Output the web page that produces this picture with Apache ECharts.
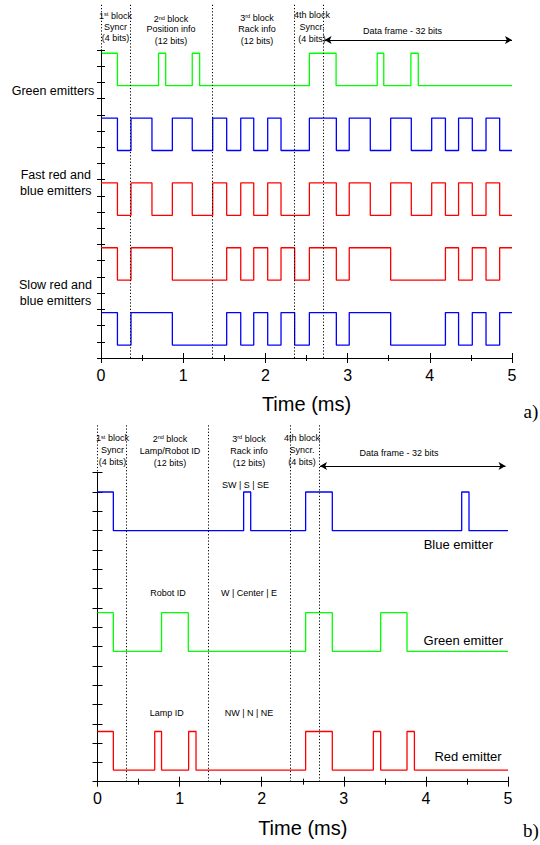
<!DOCTYPE html>
<html><head><meta charset="utf-8">
<script src="https://cdn.jsdelivr.net/npm/echarts@6/dist/echarts.min.js"></script>
<style>html,body{margin:0;padding:0;background:#fff}#c{width:540px;height:845px}</style>
</head><body><div id="c"></div>
<script>
// ---------- shared ----------
const xTickLabels = [0, 1, 2, 3, 4, 5];
const blockBoundaries = [0, 0.35, 1.35, 2.35, 2.7];
const dataFrameArrowA = [2.72, 5.0];
const dataFrameArrowB = [2.71, 4.97];

// ---------- panel a: toggle times (ms); every trace starts high ----------
const greenEdgesA = [0.20, 0.70, 0.787, 1.11, 1.20, 2.535, 2.86, 3.36, 3.44, 3.77, 3.86];
const fastEdgesA = [0.20, 0.365, 0.62, 0.868, 1.11, 1.359, 1.529, 1.70, 1.858, 2.028, 2.19, 2.535, 2.863, 3.02, 3.276, 3.524, 3.775, 4.023, 4.19, 4.35, 4.517, 4.684, 4.85];
const slowEdgesA = [0.20, 0.365, 0.868, 1.529, 1.70, 1.858, 2.028, 2.19, 2.356, 2.535, 2.863, 3.02, 3.524, 4.19, 4.35, 4.517, 4.684, 4.85];
// [high, low] levels on the y scale
const greenLevelsA = [18.8, 16.8];
const fastBlueLevelsA = [14.8, 12.8];
const fastRedLevelsA = [10.8, 8.8];
const slowRedLevelsA = [6.8, 4.8];
const slowBlueLevelsA = [2.8, 0.8];

// ---------- panel b ----------
const blueEdgesB = [0.193, 1.78, 1.866, 2.535, 2.86, 4.436, 4.525];
const greenEdgesB = [0.193, 0.78, 1.106, 2.535, 2.86, 3.449, 3.77];
const redEdgesB = [0.193, 0.697, 0.78, 1.11, 1.20, 2.535, 2.86, 3.36, 3.449, 3.77, 3.86];
const blueLevelsB = [15, 13];
const greenLevelsB = [8.75, 6.75];
const redLevelsB = [2.6, 0.6];

function stepData(edges, levels, end) {
  const hi = levels[0], lo = levels[1];
  let s = hi;
  const pts = [[0, s]];
  edges.forEach(e => { pts.push([e, s]); s = (s === hi ? lo : hi); pts.push([e, s]); });
  pts.push([end, s]);
  return pts;
}

const FONT = '"Liberation Sans", Arial, sans-serif';
const SERIF = '"Liberation Serif", "Times New Roman", serif';

const GA = {left: 101, width: 411, top: 50, height: 308};
const GB = {left: 97.5, width: 410.5, top: 472.7, height: 309};
const OA = {left: 101, width: 411, top: 3, height: 355};
const OB = {left: 97.5, width: 410.5, top: 425, height: 356.7};
const arrowYA = (358 - 40) / 355;
const arrowYB = (781.7 - 466) / 356.7;

function xBottom(gi) {
  return {
    type: 'value', gridIndex: gi, position: 'bottom', min: 0, max: 5, interval: 1,
    axisLine: {show: true, lineStyle: {color: '#000', width: 1.2}},
    axisTick: {show: true, inside: true, length: 5, lineStyle: {color: '#000'}},
    minorTick: {show: true, splitNumber: 2, length: 3, lineStyle: {color: '#000'}},
    axisLabel: {show: true, color: '#000', fontSize: 16, fontFamily: FONT, margin: 9,
      formatter: v => (xTickLabels.indexOf(v) >= 0 ? String(v) : '')},
    splitLine: {show: false}, minorSplitLine: {show: false},
    name: 'Time (ms)', nameLocation: 'middle', nameGap: 36,
    nameTextStyle: {color: '#000', fontSize: 20, fontFamily: FONT}
  };
}
function xTop(gi) {
  return {
    type: 'value', gridIndex: gi, position: 'top', min: 0, max: 5, interval: 1,
    axisLine: {show: true, lineStyle: {color: '#000', width: 1}},
    axisTick: {show: true, inside: true, length: 5, lineStyle: {color: '#000'}},
    minorTick: {show: true, splitNumber: 2, length: 3, lineStyle: {color: '#000'}},
    axisLabel: {show: false}, splitLine: {show: false}, minorSplitLine: {show: false}
  };
}
function yAx(gi, pos, max, len) {
  return {
    type: 'value', gridIndex: gi, position: pos, min: 0, max: max, interval: 1,
    axisLine: {show: true, lineStyle: {color: '#000', width: 1}},
    axisTick: {show: true, inside: true, length: len, lineStyle: {color: '#000'}},
    axisLabel: {show: false}, splitLine: {show: false}
  };
}
function hidX(gi) { return {type: 'value', gridIndex: gi, min: 0, max: 5, show: false}; }
function hidY(gi) { return {type: 'value', gridIndex: gi, min: 0, max: 1, show: false}; }

function trace(name, edges, levels, color, xi, yi) {
  return {
    name: name, type: 'line', xAxisIndex: xi, yAxisIndex: yi,
    data: stepData(edges, levels, 5), showSymbol: false, symbol: 'none',
    lineStyle: {color: color, width: 1.3}, silent: true, animation: false, z: 3
  };
}
function dotted(xi, yi) {
  return {
    type: 'line', xAxisIndex: xi, yAxisIndex: yi, data: [], silent: true, animation: false,
    markLine: {silent: true, symbol: ['none', 'none'], label: {show: false},
      lineStyle: {color: '#000', type: [1.2, 2], width: 1},
      data: blockBoundaries.map(b => [{coord: [b, 0]}, {coord: [b, 1]}])}
  };
}
function arrow(xi, yi, span, yv) {
  return {
    type: 'line', xAxisIndex: xi, yAxisIndex: yi, data: [], silent: true, animation: false,
    markLine: {silent: true, symbol: ['arrow', 'arrow'], symbolSize: [6, 7], label: {show: false},
      lineStyle: {color: '#000', type: 'solid', width: 1},
      data: [[{coord: [span[0], yv]}, {coord: [span[1], yv]}]]}
  };
}

function txt(t, x, y, size, align, extra) {
  const st = Object.assign({text: t, x: x, y: y, fill: '#000', fontSize: size, fontFamily: FONT,
    align: align || 'center', verticalAlign: 'middle'}, extra || {});
  return {type: 'text', silent: true, style: st, z: 10};
}
function supTxt(n, sup, rest, x, y, size) {
  return txt('{n|' + n + '}{s|' + sup + '}{n|' + rest + '}', x, y, size, 'center', {
    rich: {n: {fontSize: size, fontFamily: FONT, fill: '#000'},
           s: {fontSize: size * 0.62, fontFamily: FONT, fill: '#000', verticalAlign: 'top'}}
  });
}

const FS = 9;
const graphics = [
  // panel a block headings
  supTxt('1', 'st', ' block', 115.5, 15.7, FS), txt('Syncr', 115.5, 26.7, FS), txt('(4 bits)', 115.5, 38.3, FS),
  supTxt('2', 'nd', ' block', 171, 19, FS), txt('Position info', 171, 29.3, FS), txt('(12 bits)', 171, 41, FS),
  supTxt('3', 'rd', ' block', 257, 17.5, FS), txt('Rack info', 257, 28.7, FS), txt('(12 bits)', 257, 41, FS),
  txt('4th block', 312, 15.3, FS), txt('Syncr.', 312, 26.7, FS), txt('(4 bits)', 312, 38.7, FS),
  txt('Data frame - 32 bits', 402.5, 31, FS),
  txt('Green emitters', 53, 90.7, 12.5),
  txt('Fast red and', 55.8, 175, 12.5), txt('blue emitters', 55.8, 190.7, 12.5),
  txt('Slow red and', 55.5, 285, 12.5), txt('blue emitters', 55.5, 300.7, 12.5),
  txt('a)', 531, 411, 19, 'center', {fontFamily: SERIF}),
  // panel b block headings
  supTxt('1', 'st', ' block', 112.5, 438.3, FS), txt('Syncr', 112.5, 450, FS), txt('(4 bits)', 112.5, 462, FS),
  supTxt('2', 'nd', ' block', 170, 438.7, FS), txt('Lamp/Robot ID', 170, 451, FS), txt('(12 bits)', 170, 462.7, FS),
  supTxt('3', 'rd', ' block', 249, 438.7, FS), txt('Rack info', 249, 450.7, FS), txt('(12 bits)', 249, 462.7, FS),
  txt('4th block', 302, 438, FS), txt('Syncr.', 302, 450, FS), txt('(4 bits)', 302, 462, FS),
  txt('Data frame - 32 bits', 399, 453, FS),
  txt('SW | S | SE', 245.5, 485, FS),
  txt('Robot ID', 168, 593, FS), txt('W | Center | E', 249, 593, FS),
  txt('Lamp ID', 166.7, 713, FS), txt('NW | N | NE', 249, 713, FS),
  txt('Blue emitter', 493, 544, 13, 'right'),
  txt('Green emitter', 503, 640, 13, 'right'),
  txt('Red emitter', 501.7, 756.7, 13, 'right'),
  txt('b)', 531, 830, 19, 'center', {fontFamily: SERIF})
];

const option = {
  backgroundColor: '#fff',
  animation: false,
  grid: [GA, OA, GB, OB].map(g => Object.assign({containLabel: false}, g)),
  xAxis: [xBottom(0), xTop(0), hidX(1), xBottom(2), xTop(2), hidX(3)],
  yAxis: [yAx(0, 'left', 19, 4), yAx(0, 'right', 19, 4), hidY(1),
          yAx(2, 'left', 16, 5), yAx(2, 'right', 16, 5), hidY(3)],
  series: [
    trace('Green emitters', greenEdgesA, greenLevelsA, '#00ff00', 0, 0),
    trace('Fast blue', fastEdgesA, fastBlueLevelsA, '#0000ff', 0, 0),
    trace('Fast red', fastEdgesA, fastRedLevelsA, '#ff0000', 0, 0),
    trace('Slow red', slowEdgesA, slowRedLevelsA, '#ff0000', 0, 0),
    trace('Slow blue', slowEdgesA, slowBlueLevelsA, '#0000ff', 0, 0),
    dotted(2, 2), arrow(2, 2, dataFrameArrowA, arrowYA),
    trace('Blue emitter', blueEdgesB, blueLevelsB, '#0000ff', 3, 3),
    trace('Green emitter', greenEdgesB, greenLevelsB, '#00ff00', 3, 3),
    trace('Red emitter', redEdgesB, redLevelsB, '#ff0000', 3, 3),
    dotted(5, 5), arrow(5, 5, dataFrameArrowB, arrowYB)
  ],
  graphic: graphics
};

const chart = echarts.init(document.getElementById('c'), null, {renderer: 'svg'});
chart.setOption(option);
</script>
</body></html>
